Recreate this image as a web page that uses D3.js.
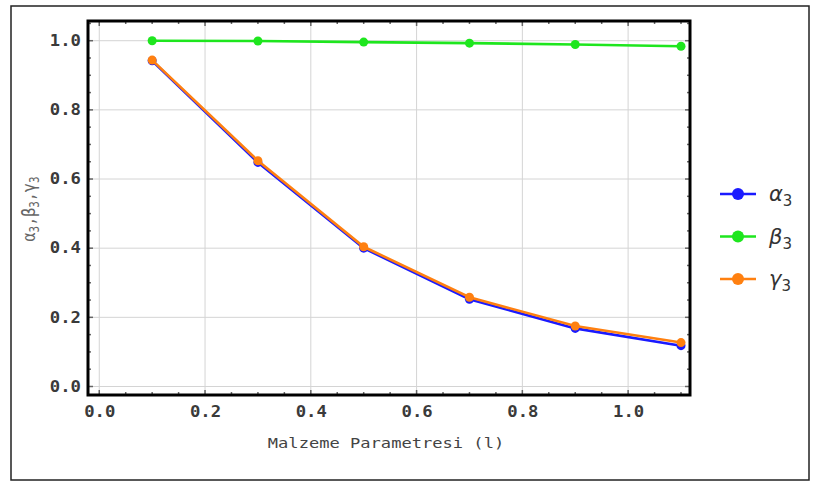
<!DOCTYPE html>
<html>
<head>
<meta charset="utf-8">
<script src="https://cdn.jsdelivr.net/npm/d3@7"></script>
<style>
  body { margin: 0; background: #fff; }
  svg { display: block; }
</style>
</head>
<body>
<svg id="chart"></svg>
<script>
// values
const lengths = [0.1, 0.3, 0.5, 0.7, 0.9, 1.1]
const alpha3 = [0.942, 0.648, 0.400, 0.252, 0.168, 0.118]
const beta3 = [1.0, 0.999, 0.996, 0.993, 0.989, 0.984]
const gamma3 = [0.944, 0.653, 0.404, 0.258, 0.175, 0.127]
const xTicks = [0.0, 0.2, 0.4, 0.6, 0.8, 1.0]
const yTicks = [0.0, 0.2, 0.4, 0.6, 0.8, 1.0]
const seriesNames = ['α', 'β', 'γ']

const W = 813, H = 482
const m = { left: 88, right: 690, top: 21, bottom: 395 }
const stretch = 1.22 // the picture is widened a little

const svg = d3.select('#chart').attr('width', W).attr('height', H)

// outer box
svg.append('rect')
  .attr('x', 11).attr('y', 6).attr('width', 798).attr('height', 474)
  .attr('fill', 'none').attr('stroke', '#222').attr('stroke-width', 1.5)

const x = d3.scaleLinear().domain([-0.0213, 1.117]).range([m.left, m.right])
const y = d3.scaleLinear().domain([-0.0246, 1.057]).range([m.bottom, m.top])

// grid
svg.append('g').selectAll('line').data(xTicks).enter().append('line')
  .attr('x1', d => x(d)).attr('x2', d => x(d))
  .attr('y1', m.top).attr('y2', m.bottom)
  .attr('stroke', '#d4d4d4').attr('stroke-width', 1)
svg.append('g').selectAll('line').data(yTicks).enter().append('line')
  .attr('x1', m.left).attr('x2', m.right)
  .attr('y1', d => y(d)).attr('y2', d => y(d))
  .attr('stroke', '#d4d4d4').attr('stroke-width', 1)

// frame ticks (inward), minor every 0.05
const minorX = d3.range(0, 1.1001, 0.05)
const minorY = d3.range(0, 1.0501, 0.05)
const isMajor = d => Math.abs(d * 5 - Math.round(d * 5)) < 1e-6

const tickCol = '#666'
svg.append('g').selectAll('line').data(minorX).enter().append('line')
  .attr('x1', d => x(d)).attr('x2', d => x(d))
  .attr('y1', m.bottom).attr('y2', d => m.bottom - (isMajor(d) ? 5 : 3))
  .attr('stroke', tickCol).attr('stroke-width', 1.5)
svg.append('g').selectAll('line').data(minorX).enter().append('line')
  .attr('x1', d => x(d)).attr('x2', d => x(d))
  .attr('y1', m.top).attr('y2', d => m.top + (isMajor(d) ? 5 : 3))
  .attr('stroke', tickCol).attr('stroke-width', 1.5)
svg.append('g').selectAll('line').data(minorY).enter().append('line')
  .attr('y1', d => y(d)).attr('y2', d => y(d))
  .attr('x1', m.left).attr('x2', d => m.left + (isMajor(d) ? 5 : 3))
  .attr('stroke', tickCol).attr('stroke-width', 1.5)
svg.append('g').selectAll('line').data(minorY).enter().append('line')
  .attr('y1', d => y(d)).attr('y2', d => y(d))
  .attr('x1', m.right).attr('x2', d => m.right - (isMajor(d) ? 5 : 3))
  .attr('stroke', tickCol).attr('stroke-width', 1.5)

// tick labels via d3 axes
const font = "'DejaVu Sans Mono', monospace"
const xAxis = d3.axisBottom(x).tickValues(xTicks).tickSize(0).tickPadding(0)
  .tickFormat(d3.format('.1f'))
const gx = svg.append('g').attr('transform', `translate(0, ${m.bottom})`).call(xAxis)
gx.select('.domain').remove()
gx.selectAll('text')
  .attr('y', 0).attr('dy', 0)
  .attr('transform', `translate(0, 22) scale(1.15, 1)`)
  .attr('font-family', font).attr('font-size', 15).attr('font-weight', 'bold')
  .attr('fill', '#3a3a3a')

const yAxis = d3.axisLeft(y).tickValues(yTicks).tickSize(0).tickPadding(0)
  .tickFormat(d3.format('.1f'))
const gy = svg.append('g').attr('transform', `translate(${m.left}, 0)`).call(yAxis)
gy.select('.domain').remove()
gy.selectAll('text')
  .attr('x', 0)
  .attr('transform', 'translate(-7, 0) scale(1.15, 1)')
  .attr('font-family', font).attr('font-size', 15).attr('font-weight', 'bold')
  .attr('fill', '#3a3a3a')

// axis titles
svg.append('text')
  .attr('transform', `translate(386, 448) scale(${stretch}, 1)`)
  .attr('text-anchor', 'middle')
  .attr('font-family', font).attr('font-size', 14)
  .attr('fill', '#444')
  .text('Malzeme Parametresi (l)')

const yTitle = svg.append('text')
  .attr('transform', `translate(35, 209) scale(${stretch}, 1) rotate(-90)`)
  .attr('text-anchor', 'middle')
  .attr('font-family', font).attr('font-size', 15)
  .attr('fill', '#666')
yTitle.append('tspan').text('α')
yTitle.append('tspan').attr('font-size', 11).attr('dy', 3).text('3')
yTitle.append('tspan').attr('dy', -3).text(',β')
yTitle.append('tspan').attr('font-size', 11).attr('dy', 3).text('3')
yTitle.append('tspan').attr('dy', -3).text(',γ')
yTitle.append('tspan').attr('font-size', 11).attr('dy', 3).text('3')

// series
const series = [
  { name: seriesNames[0], values: alpha3, color: '#1a1aff' },
  { name: seriesNames[1], values: beta3, color: '#1ee61e' },
  { name: seriesNames[2], values: gamma3, color: '#ff8010' }
]

const line = d3.line().x((d, i) => x(lengths[i])).y(d => y(d))

series.forEach(s => {
  svg.append('path')
    .datum(s.values)
    .attr('d', line)
    .attr('fill', 'none')
    .attr('stroke', s.color)
    .attr('stroke-width', 2.6)
  svg.append('g').selectAll('circle').data(s.values).enter().append('circle')
    .attr('cx', (d, i) => x(lengths[i]))
    .attr('cy', d => y(d))
    .attr('r', 4.5)
    .attr('fill', s.color)
})

// frame on top
svg.append('rect')
  .attr('x', m.left).attr('y', m.top)
  .attr('width', m.right - m.left).attr('height', m.bottom - m.top)
  .attr('fill', 'none').attr('stroke', '#000').attr('stroke-width', 3)

// legend
const legend = svg.append('g')
series.forEach((s, i) => {
  const ly = 194 + i * 42.5
  legend.append('line')
    .attr('x1', 720).attr('x2', 756).attr('y1', ly).attr('y2', ly)
    .attr('stroke', s.color).attr('stroke-width', 2.6)
  legend.append('circle')
    .attr('cx', 738).attr('cy', ly).attr('r', 6).attr('fill', s.color)
  const t = legend.append('text')
    .attr('x', 769).attr('y', ly + 7)
    .attr('font-family', "'DejaVu Sans', sans-serif").attr('font-size', 21)
    .attr('font-style', 'italic').attr('fill', '#333')
  t.append('tspan').text(s.name)
  t.append('tspan').attr('font-size', 15).attr('font-style', 'normal').attr('dy', 5).text('3')
})
</script>
</body>
</html>
